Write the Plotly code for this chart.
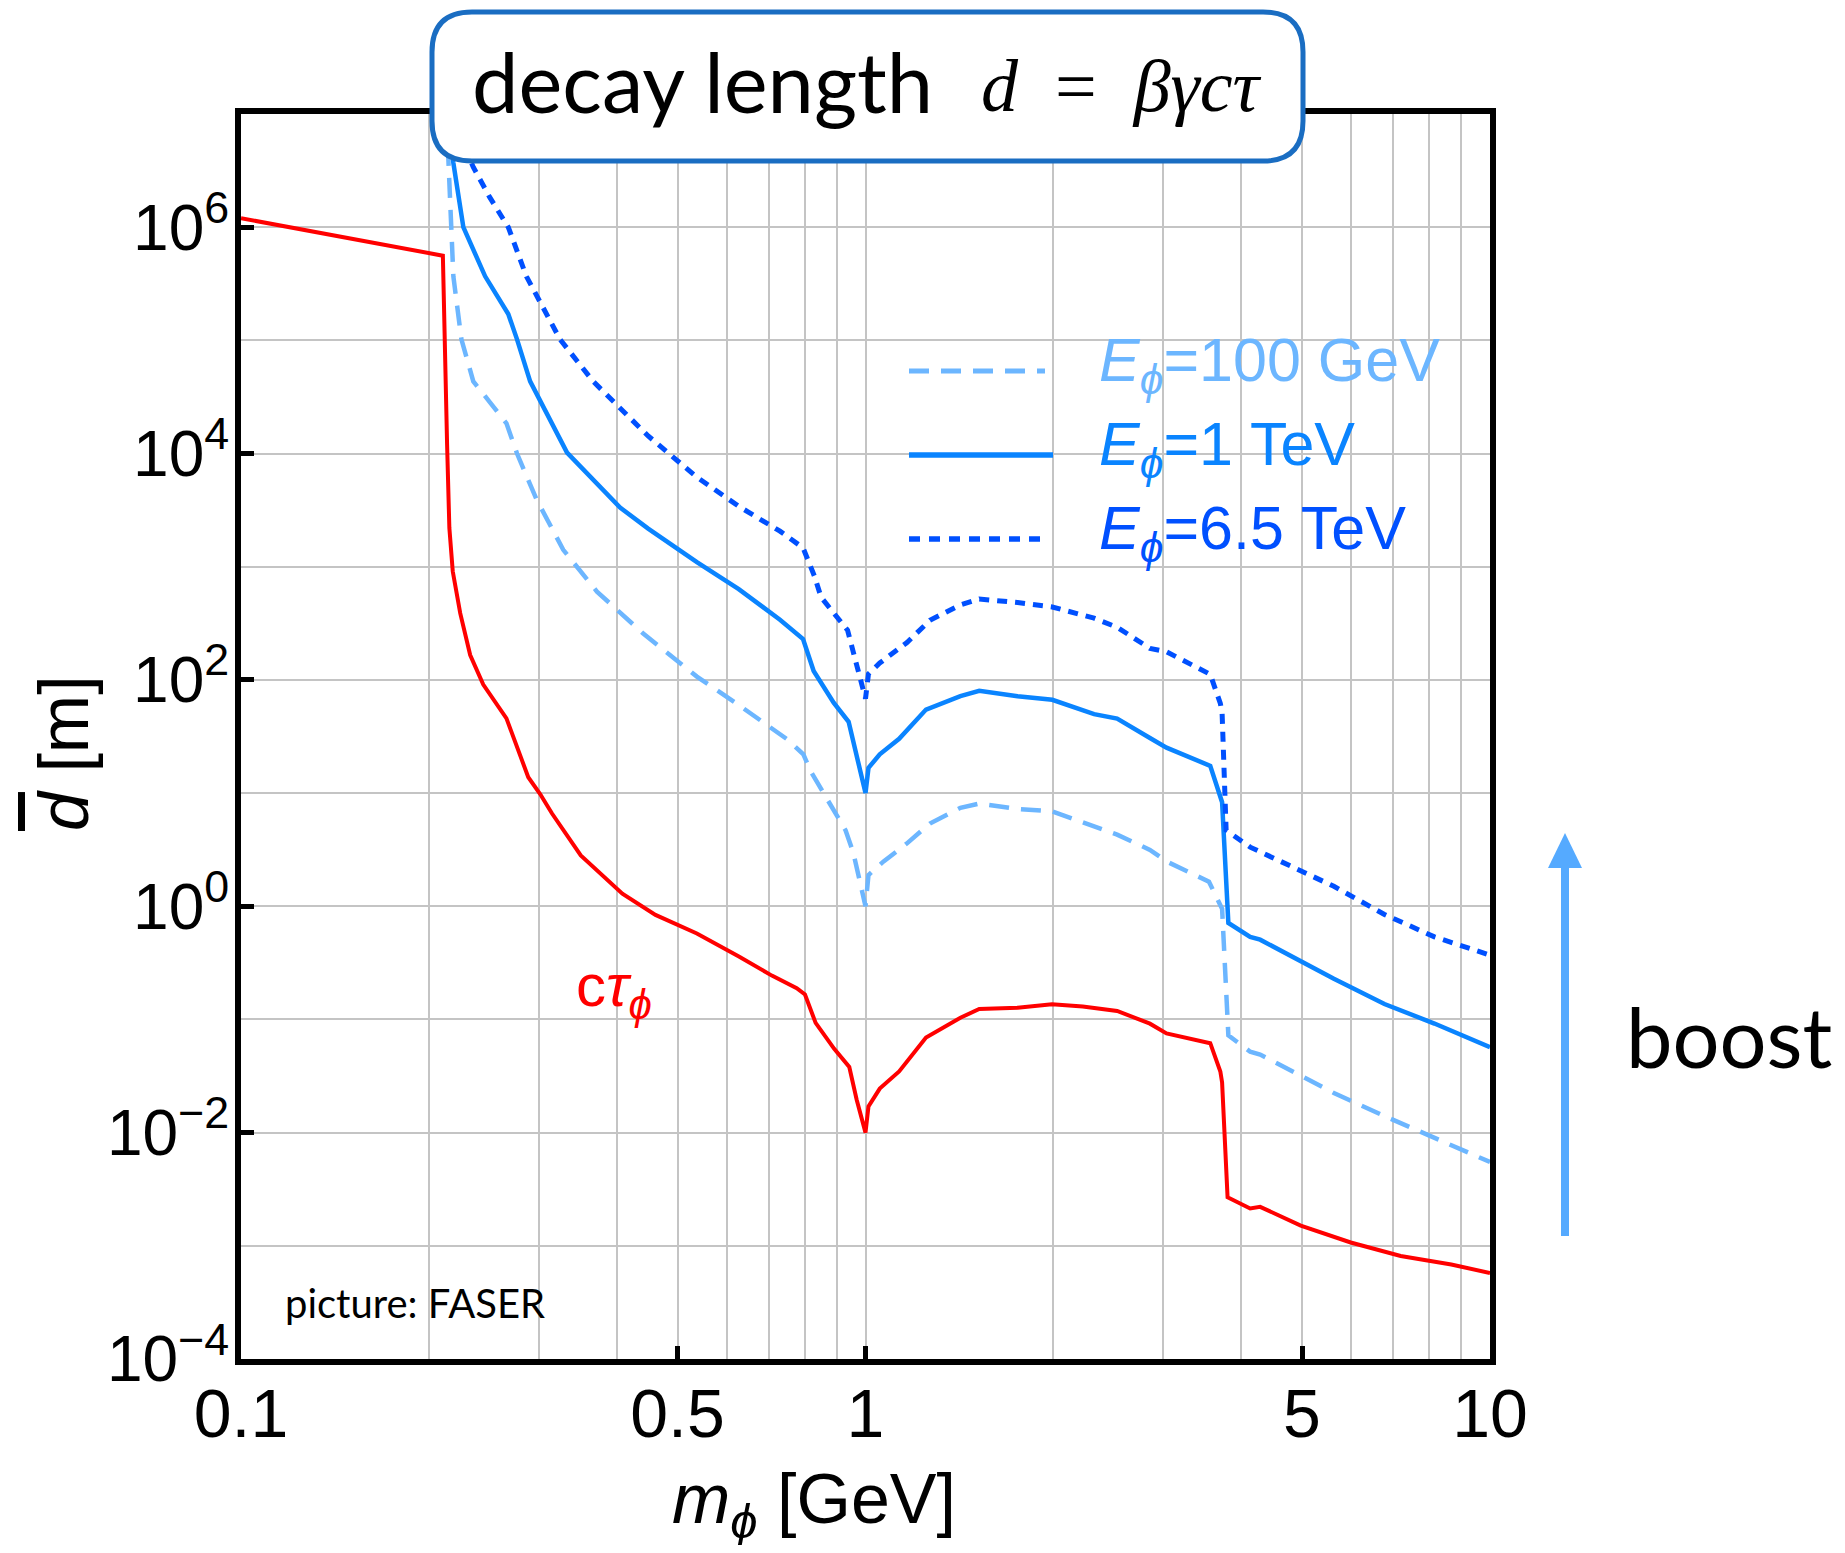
import plotly.graph_objects as go

# ---------------- data ----------------
# c*tau_phi (red)
m_ctau = [0.100, 0.126, 0.158, 0.2105, 0.2138, 0.2156, 0.2183, 0.2244, 0.2328, 0.2443,
          0.2661, 0.2767, 0.2884, 0.3013, 0.3148, 0.350, 0.408, 0.461, 0.537, 0.627,
          0.708, 0.776, 0.800, 0.832, 0.891, 0.942, 0.968, 1.000, 1.011, 1.054, 1.132,
          1.250, 1.419, 1.521, 1.752, 1.989, 2.228, 2.529, 2.854, 3.034, 3.565, 3.700,
          3.724, 3.800, 4.130, 4.285, 4.977, 5.984, 7.194, 8.670, 10.0]
d_ctau = [1.20e6, 9.5e5, 7.5e5, 5.6e5, 1.2e4, 2.2e3, 912, 389, 166, 91,
          45.7, 25.1, 13.8, 9.8, 6.6, 2.81, 1.29, 0.839, 0.575, 0.360,
          0.244, 0.189, 0.166, 0.0933, 0.0550, 0.0380, 0.0195, 0.0100, 0.0170, 0.0245, 0.0347,
          0.0692, 0.1035, 0.124, 0.127, 0.136, 0.130, 0.119, 0.0918, 0.0753, 0.0617, 0.0347,
          0.0277, 0.00269, 0.00214, 0.00221, 0.00151, 0.00107, 0.000813, 0.000684, 0.000575]

# E_phi = 100 GeV (dashed, light blue)
m_100 = [0.2133, 0.2148, 0.2168, 0.2188, 0.2254, 0.2355, 0.2506, 0.2661, 0.2767, 0.2972,
         0.3281, 0.3715, 0.4406, 0.5370, 0.6266, 0.7516, 0.7953, 0.8185, 0.9290, 0.9559,
         1.000, 1.011, 1.069, 1.164, 1.268, 1.419, 1.521, 1.752, 1.991, 2.323, 2.529,
         2.854, 3.034, 3.548, 3.700, 3.724, 3.811, 4.130, 4.285, 5.623, 6.776, 8.147, 10.0]
d_100 = [1e7, 3.7e6, 1.0e6, 3.68e5, 1.02e5, 4.34e4, 2.82e4, 1.85e4, 1.0e4, 3.95e3,
         1.41e3, 603, 257, 107, 60, 29.5, 22.0, 15.3, 4.70, 2.98,
         1.0, 1.89, 2.49, 3.58, 5.38, 7.41, 8.09, 7.24, 6.89, 5.15, 4.29,
         3.15, 2.49, 1.65, 1.0, 0.95, 0.0724, 0.0519, 0.0490, 0.0224, 0.0140, 0.00891, 0.00550]

# E_phi = 1 TeV (solid, blue)
m_1000 = [0.2143, 0.2188, 0.2270, 0.2460, 0.2679, 0.2767, 0.2904, 0.3327, 0.4046, 0.4487,
          0.5370, 0.6266, 0.7295, 0.7943, 0.826, 0.8892, 0.9397, 1.000, 1.011, 1.054,
          1.132, 1.250, 1.419, 1.521, 1.752, 1.991, 2.323, 2.529, 2.854, 3.034, 3.565,
          3.700, 3.724, 3.811, 4.130, 4.285, 5.623, 6.776, 8.147, 10.0]
d_1000 = [1e7, 3.7e6, 1.0e6, 3.68e5, 1.71e5, 1.02e5, 4.34e4, 1.02e4, 3.33e3, 2.17e3,
          1.10e3, 634, 340, 230, 120, 63, 42.7, 10.0, 16.7, 22.0,
          30.2, 54.7, 71.8, 80.0, 71.8, 66.7, 49.8, 45.5, 30.7, 25.2, 17.4,
          9.7, 8.3, 0.713, 0.537, 0.507, 0.229, 0.137, 0.0920, 0.0570]

# E_phi = 6.5 TeV (dotted, deep blue)
m_6500 = [0.2158, 0.2355, 0.2500, 0.2679, 0.2864, 0.3243, 0.3664, 0.4487, 0.5370, 0.6266,
          0.7295, 0.7943, 0.8279, 0.8492, 0.936, 1.000, 1.011, 1.054, 1.164, 1.268,
          1.419, 1.521, 1.752, 1.991, 2.323, 2.529, 2.854, 3.034, 3.565, 3.700, 3.724,
          3.780, 4.130, 5.623, 6.776, 8.147, 10.0]
d_6500 = [1e7, 3.39e6, 1.85e6, 1.0e6, 3.68e5, 1.02e5, 4.34e4, 1.43e4, 6.18e3, 3.42e3,
          2.06e3, 1.47e3, 832, 536, 275, 68.4, 113, 141, 213, 336,
          461, 519, 482, 441, 351, 292, 190, 177, 112, 62, 51,
          4.7, 3.33, 1.50, 0.847, 0.537, 0.37]

x_tickvals = [0.1, 0.5, 1, 5, 10]
x_ticktext = ["0.1", "0.5", "1", "5", "10"]
x_minorvals = [0.2, 0.3, 0.4, 0.6, 0.7, 0.8, 0.9, 2, 3, 4, 6, 7, 8, 9]
y_tickvals = [1e-4, 1e-2, 1e0, 1e2, 1e4, 1e6]
y_ticktext = ["10<sup>\u22124</sup>", "10<sup>\u22122</sup>", "10<sup>0</sup>",
              "10<sup>2</sup>", "10<sup>4</sup>", "10<sup>6</sup>"]
y_minorvals = [1e-3, 1e-1, 1e1, 1e3, 1e5]

legend_labels = ["<i>E</i><sub><i>\u03d5</i></sub>=100 GeV",
                 "<i>E</i><sub><i>\u03d5</i></sub>=1 TeV",
                 "<i>E</i><sub><i>\u03d5</i></sub>=6.5 TeV"]

# ---------------- styling ----------------
RED = "#FF0000"
C100 = "#6CB6FF"
C1000 = "#0A84FF"
C6500 = "#0050FF"
GRID = "#C4C4C4"
SANS = "Liberation Sans, Arial, sans-serif"
AVE = "Lato, Noto Sans, sans-serif"

# the page body adds an 8 px offset; the figure is sized so the page fits the window
OFF = 8
W, H = 1845 - 2 * OFF, 1553 - 2 * OFF
# plot area in window pixels
L, R, T, B = 241, 1490, 114, 1359


def px(x):
    return (x - L) / (R - L)


def py(y):
    return (B - y) / (B - T)


fig = go.Figure()
fig.add_trace(go.Scatter(x=m_ctau, y=d_ctau, mode="lines",
                         line=dict(color=RED, width=4), showlegend=False))
fig.add_trace(go.Scatter(x=m_100, y=d_100, mode="lines",
                         line=dict(color=C100, width=4.5, dash="20px,12px"), showlegend=False))
fig.add_trace(go.Scatter(x=m_1000, y=d_1000, mode="lines",
                         line=dict(color=C1000, width=4.5), showlegend=False))
fig.add_trace(go.Scatter(x=m_6500, y=d_6500, mode="lines",
                         line=dict(color=C6500, width=5, dash="10px,8px"), showlegend=False))

axis_common = dict(showline=True, linewidth=6, linecolor="black", mirror=True,
                   ticks="inside", ticklen=13, tickwidth=5, tickcolor="black",
                   showgrid=True, gridcolor=GRID, gridwidth=1.5, zeroline=False)

fig.update_xaxes(type="log", range=[-1, 1], tickmode="array", tickvals=x_tickvals,
                 ticktext=x_ticktext, ticklabelstandoff=-10,
                 tickfont=dict(family=SANS, size=68, color="black"),
                 minor=dict(tickmode="array", tickvals=x_minorvals, showgrid=True,
                            gridcolor=GRID, gridwidth=1.5, ticks=""),
                 **axis_common)
fig.update_yaxes(type="log", range=[-4, 7], tickmode="array", tickvals=y_tickvals,
                 ticktext=y_ticktext, ticklabelstandoff=-7,
                 tickfont=dict(family=SANS, size=64, color="black"),
                 minor=dict(tickmode="array", tickvals=y_minorvals, showgrid=True,
                            gridcolor=GRID, gridwidth=1.5, ticks=""),
                 **axis_common)

shapes = []
# white patch hiding part of the grid (as in the source picture)
shapes.append(dict(type="rect", xref="paper", yref="paper", x0=px(622), x1=px(1475),
                   y0=py(322), y1=py(133), fillcolor="white", line=dict(width=0),
                   layer="between"))
# rounded title box
x0, x1, y0, y1 = px(432), px(1303), py(161), py(12)
rx, ry = 40 / (R - L), 40 / (B - T)
path = (f"M {x0+rx},{y1} L {x1-rx},{y1} Q {x1},{y1} {x1},{y1-ry} L {x1},{y0+ry} "
        f"Q {x1},{y0} {x1-rx},{y0} L {x0+rx},{y0} Q {x0},{y0} {x0},{y0+ry} "
        f"L {x0},{y1-ry} Q {x0},{y1} {x0+rx},{y1} Z")
shapes.append(dict(type="path", xref="paper", yref="paper", path=path,
                   fillcolor="white", line=dict(color="#1A6DC2", width=5), layer="above"))
# legend sample lines
shapes.append(dict(type="line", xref="paper", yref="paper", x0=px(909), x1=px(1045),
                   y0=py(371), y1=py(371), line=dict(color=C100, width=5, dash="20px,12px")))
shapes.append(dict(type="line", xref="paper", yref="paper", x0=px(909), x1=px(1053),
                   y0=py(455), y1=py(455), line=dict(color=C1000, width=5.5)))
shapes.append(dict(type="line", xref="paper", yref="paper", x0=px(909), x1=px(1045),
                   y0=py(539), y1=py(539), line=dict(color=C6500, width=5.5, dash="11px,9px")))
# boost arrow
ARROW = "#55AAFF"
shapes.append(dict(type="line", xref="paper", yref="paper", x0=px(1565), x1=px(1565),
                   y0=py(1236), y1=py(864), line=dict(color=ARROW, width=8)))
shapes.append(dict(type="path", xref="paper", yref="paper",
                   path=f"M {px(1548)},{py(868)} L {px(1582)},{py(868)} L {px(1565)},{py(833)} Z",
                   fillcolor=ARROW, line=dict(width=0)))
fig.update_layout(shapes=shapes)

ann = []
ann.append(dict(text="decay length", x=px(470), y=py(81), xref="paper", yref="paper",
                xanchor="left", yanchor="middle", showarrow=False,
                font=dict(family=AVE, size=83, color="black")))
ann.append(dict(text="<i>d</i>\u00a0\u00a0=\u00a0\u00a0<i>\u03b2\u03b3c\u03c4</i>", x=px(979), y=py(86),
                xref="paper", yref="paper", xanchor="left", yanchor="middle", showarrow=False,
                font=dict(family="Liberation Serif, serif", size=74, color="black")))
leg_cols = [C100, C1000, C6500]
leg_y = [364, 448, 532]
for lab, col, yy in zip(legend_labels, leg_cols, leg_y):
    ann.append(dict(text=lab, x=px(1097), y=py(yy), xref="paper", yref="paper",
                    xanchor="left", yanchor="middle", showarrow=False,
                    font=dict(family=SANS, size=61, color=col)))
ann.append(dict(text="c<i>\u03c4</i><sub><i>\u03d5</i></sub>", x=px(574), y=py(990),
                xref="paper", yref="paper", xanchor="left", yanchor="middle", showarrow=False,
                font=dict(family=SANS, size=60, color=RED)))
ann.append(dict(text="picture: FASER", x=px(283), y=py(1303), xref="paper", yref="paper",
                xanchor="left", yanchor="middle", showarrow=False,
                font=dict(family=AVE, size=40, color="black")))
ann.append(dict(text="boost", x=px(1624), y=py(1036), xref="paper", yref="paper",
                xanchor="left", yanchor="middle", showarrow=False,
                font=dict(family=AVE, size=83, color="black")))
ann.append(dict(text="<i>m</i><sub><i>\u03d5</i></sub> [GeV]", x=px(814), y=py(1504),
                xref="paper", yref="paper", xanchor="center", yanchor="middle", showarrow=False,
                font=dict(family=SANS, size=70, color="black")))
ann.append(dict(text="<span style=\"text-decoration:overline\"><i>d</i></span> [m]",
                x=px(64), y=py(753), xref="paper", yref="paper", textangle=-90,
                xanchor="center", yanchor="middle", showarrow=False,
                font=dict(family=SANS, size=70, color="black")))
fig.update_layout(annotations=ann)

fig.update_layout(width=W, height=H,
                  margin=dict(l=L - OFF, r=W - (R - OFF), t=T - OFF, b=H - (B - OFF)),
                  plot_bgcolor="white", paper_bgcolor="white", showlegend=False)

fig.write_html("out.html")
